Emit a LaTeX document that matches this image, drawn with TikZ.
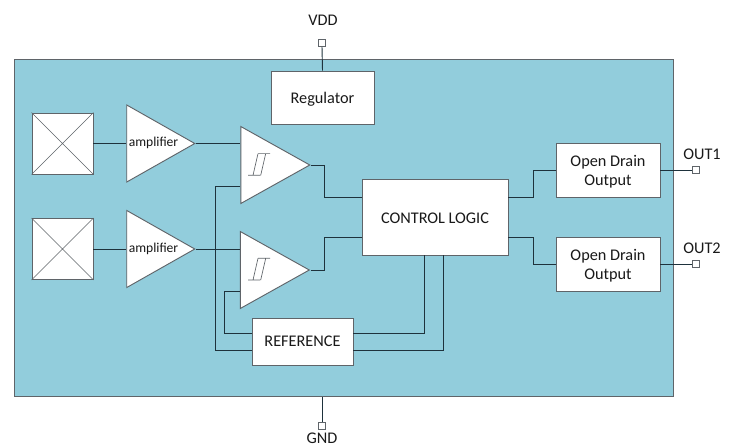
\documentclass[tikz,border=0pt]{standalone}
\usepackage{fontspec}
\setmainfont{Carlito}
\usetikzlibrary{shapes.geometric,calc}
\definecolor{chipfill}{RGB}{146,205,220}
\definecolor{edge}{RGB}{95,100,105}
\definecolor{wirec}{RGB}{30,50,60}
\newcommand{\lowered}[1]{\raisebox{-1.3pt}[\height][\depth]{#1}}
\tikzset{
  x=0.75pt,y=-0.75pt,
  boxn/.style={draw=edge,fill=white,line width=0.7pt,inner sep=0pt,font=\fontsize{12.2}{14.5}\selectfont,align=center,text=black!90},
  sensor/.style={draw=edge,fill=white,line width=0.7pt,minimum width=45.75pt,minimum height=45.75pt,inner sep=0pt},
  tri/.style={isosceles triangle,isosceles triangle stretches,shape border rotate=0,draw=edge,fill=white,line width=0.7pt,inner sep=0pt,minimum height=#1},
  pinbox/.style={draw=edge,fill=white,line width=0.7pt,minimum size=5.5pt,inner sep=0pt},
  pinlabel/.style={font=\fontsize{12.2}{14}\selectfont,inner sep=0pt,text=black!90},
  wire/.style={draw=wirec,line width=0.7pt,line join=miter},
  thinl/.style={draw=edge,line width=0.5pt},
  hyst/.pic={
    \draw[thinl] (-5,11) -- (7,11) (5,-10.7) -- (17,-10.7)
      (0,11) -- (5,-10.7) (7.7,11) -- (12.7,-10.7);
  }
}
\begin{document}
\begin{tikzpicture}
\useasboundingbox (0,0) rectangle (730,446);
% chip body
\node[draw=edge,fill=chipfill,line width=0.8pt,minimum width=494.25pt,minimum height=252.75pt,inner sep=0pt,anchor=north west] (chip) at (14,59) {};
% pins
\node[pinbox] (pvdd) at (322,43) {};
\node[pinbox] (pgnd) at (322,426) {};
\node[pinbox] (pout1) at (696,170) {};
\node[pinbox] (pout2) at (696,264) {};
\node[pinlabel] (lvdd) at (323,20) {VDD};
\node[pinlabel] (lgnd) at (322,438.5) {GND};
\node[pinlabel] (lout1) at (702,154) {OUT1};
\node[pinlabel] (lout2) at (702,248) {OUT2};
% boxes
\node[boxn,minimum width=77.25pt,minimum height=39.75pt] (reg) at (322.5,97.5) {\lowered{Regulator}};
\node[boxn,minimum width=109.5pt,minimum height=57pt] (logic) at (435,217) {\lowered{CONTROL LOGIC}};
\node[boxn,minimum width=78pt,minimum height=40.5pt] (od1) at (608,170) {\lowered{Open Drain}\\\lowered{Output}};
\node[boxn,minimum width=78pt,minimum height=40.5pt] (od2) at (608,264) {\lowered{Open Drain}\\\lowered{Output}};
\node[boxn,minimum width=75.75pt,minimum height=35.25pt] (ref) at (302.5,341.5) {REFERENCE};
% sensors
\node[sensor] (s1) at (62.5,143.5) {};
\node[sensor] (s2) at (62.5,249) {};
\draw[thinl] (s1.north west) -- (s1.south east) (s1.north east) -- (s1.south west);
\draw[thinl] (s2.north west) -- (s2.south east) (s2.north east) -- (s2.south west);
% triangles
\node[tri=51pt,minimum width=57.75pt,anchor=apex] (a1) at (196,143.5) {};
\node[tri=51pt,minimum width=57.75pt,anchor=apex] (a2) at (196,249) {};
\node[tri=51.75pt,minimum width=57.75pt,anchor=apex] (c1) at (311,165) {};
\node[tri=51.75pt,minimum width=57.75pt,anchor=apex] (c2) at (310.5,270) {};
\node[font=\fontsize{10.2}{12}\selectfont,inner sep=0pt,text=black!90] (ta1) at (153.5,143) {amplifier};
\node[font=\fontsize{10.2}{12}\selectfont,inner sep=0pt,text=black!90] (ta2) at (153.5,248.5) {amplifier};
\pic at (253,164.3) {hyst};
\pic at (253,269) {hyst};
% port coordinates
\coordinate (c1a) at (240,143.5);
\coordinate (c1b) at (240,186);
\coordinate (c2a) at (240,249);
\coordinate (c2b) at (240,291);
% connectors
\draw[wire] (s1.east) -- (a1.lower side);
\draw[wire] (s2.east) -- (a2.lower side);
\draw[wire] (a1.apex) -- (c1a);
\draw[wire] (a2.apex) -- (c2a);
\draw[wire] (c1.apex) -- (324,165) -- (324,197) -- (362,197) coordinate (l1);
\draw[wire] (c2.apex) -- (324,270) -- (324,237) -- (362,237) coordinate (l2);
\draw[wire] (c1b) -- (215,186) -- (215,350) -- (252,350) coordinate (r2);
\draw[wire] (c2b) -- (224,291) -- (224,333) -- (252,333) coordinate (r1);
\draw[wire] (353,333) coordinate (r3) -- (424,333) -- (424,255) coordinate (l3);
\draw[wire] (353,350) coordinate (r4) -- (443,350) -- (443,255) coordinate (l4);
\draw[wire] (508,197) coordinate (l5) -- (533,197) -- (533,170) -- (od1.west);
\draw[wire] (508,237) coordinate (l6) -- (533,237) -- (533,264) -- (od2.west);
\draw[wire] (od1.east) -- (pout1.west);
\draw[wire] (od2.east) -- (pout2.west);
\draw[wire] (pvdd.south) -- (reg.north);
\draw[wire] (chip.south -| pgnd) -- (pgnd.north);
\end{tikzpicture}
\end{document}
